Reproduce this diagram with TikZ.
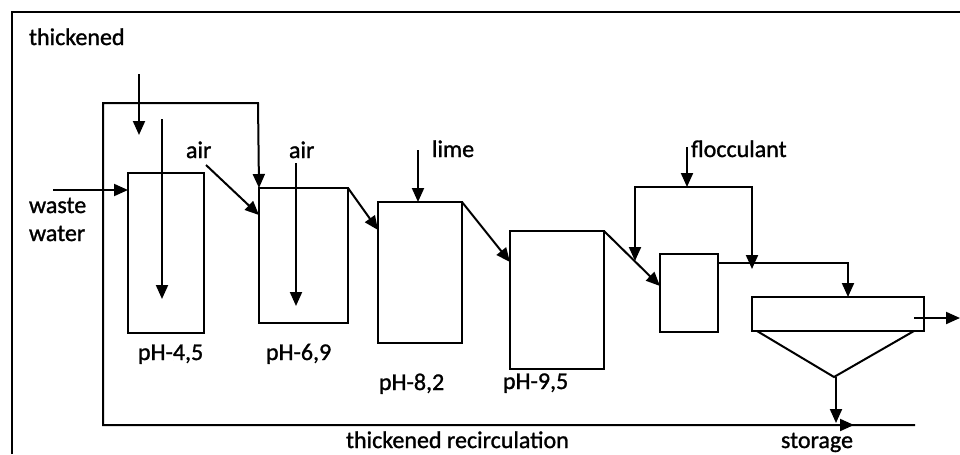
\documentclass[tikz,border=0pt]{standalone}
\usepackage{fontspec}
\setmainfont[FakeBold=1.2]{Carlito}
\usetikzlibrary{arrows.meta}
\newlength\pxu
\setlength\pxu{0.75pt}
\begin{document}
\begin{tikzpicture}[x=0.75pt,y=-0.75pt,
  every path/.style={line width=1.5pt},
  tank/.style={draw,rectangle,inner sep=0pt,outer sep=0pt,line width=1.5pt},
  flow/.style={draw,-{Triangle[length=10.5pt,width=9pt]}},
  lbl/.style={anchor=base west,inner sep=0pt,font=\fontsize{18pt}{20pt}\selectfont}]
\useasboundingbox (0,0) rectangle (960,454);
% outer frame
\draw (12,454) -- (12,12) -- (960,12);
% tanks
\node[tank,minimum width=76\pxu,minimum height=160\pxu] (T1) at (166,253) {};
\node[tank,minimum width=89\pxu,minimum height=135\pxu] (T2) at (303.5,255.5) {};
\node[tank,minimum width=84\pxu,minimum height=141\pxu] (T3) at (420,272.5) {};
\node[tank,minimum width=94\pxu,minimum height=138\pxu] (T4) at (557,300) {};
\node[tank,minimum width=58\pxu,minimum height=78\pxu] (T5) at (689,293) {};
\node[tank,minimum width=172\pxu,minimum height=34\pxu] (S) at (838,314) {};
% coordinates
\coordinate (ww) at (53,190);
\coordinate (th1) at (139,74);
\coordinate (th2) at (139,135);
\coordinate (in1) at (162,119);
\coordinate (in2) at (162,299);
\coordinate (rc) at (915,425);
\coordinate (air1) at (206,165);
\coordinate (air1t) at (259,215);
\coordinate (air2) at (296,163);
\coordinate (air2t) at (296,306);
\coordinate (t3in) at (378,230);
\coordinate (lime) at (418,150);
\coordinate (t4in) at (510,262);
\coordinate (t5in) at (660,286);
\coordinate (fl) at (687,147);
\coordinate (flj) at (687,187);
\coordinate (fll) at (635,261);
\coordinate (flr) at (752,269);
\coordinate (t5out) at (718,263);
\coordinate (sin) at (848,297);
\coordinate (out1) at (914,318);
\coordinate (out2) at (960,318);
\coordinate (cl) at (757,331);
\coordinate (cb) at (834,377);
\coordinate (cr) at (914,331);
\coordinate (st) at (836,423);
\coordinate (sth) at (854,425);
% labels
\node[lbl] (lth) at (28,45) {thickened};
\node[lbl] (lws) at (28,213) {waste};
\node[lbl] (lwt) at (28,241) {water};
\node[lbl] (la1) at (185,158) {air};
\node[lbl] (la2) at (288,158) {air};
\node[lbl] (lli) at (431,157) {lime};
\node[lbl] (lfl) at (690,157) {flocculant};
\node[lbl] (p1) at (137,360) {pH-4,5};
\node[lbl] (p2) at (265,360) {pH-6,9};
\node[lbl] (p3) at (378,390) {pH-8,2};
\node[lbl] (p4) at (502,389) {pH-9,5};
\node[lbl] (lrc) at (345,448) {thickened recirculation};
\node[lbl] (lst) at (780,448) {storage};
% connectors
\draw[flow] (ww) -- (ww -| T1.west);
\draw[flow] (th1) -- (th2);
\draw[flow] (in1) -- (in2);
\draw[flow] (rc) -- (103,425) -- (103,103) -- (258,103) -- (T2.north west);
\draw[flow] (air1) -- (air1t);
\draw[flow] (air2) -- (air2t);
\draw[flow] (T2.north east) -- (t3in);
\draw[flow] (lime) -- (lime |- T3.north);
\draw[flow] (T3.north east) -- (t4in);
\draw[flow] (T4.north east) -- (t5in);
\draw[flow] (fl) -- (flj);
\draw[flow] (flj) -- (635,187) -- (fll);
\draw[flow] (flj) -- (752,187) -- (flr);
\draw[flow] (t5out) -- (848,263) -- (sin);
\draw[flow] (out1) -- (out2);
\draw (cl) -- (cb) -- (cr);
\draw[flow] (cb -| st) -- (st);
\draw[flow] (840,425) -- (sth);
\end{tikzpicture}
\end{document}
